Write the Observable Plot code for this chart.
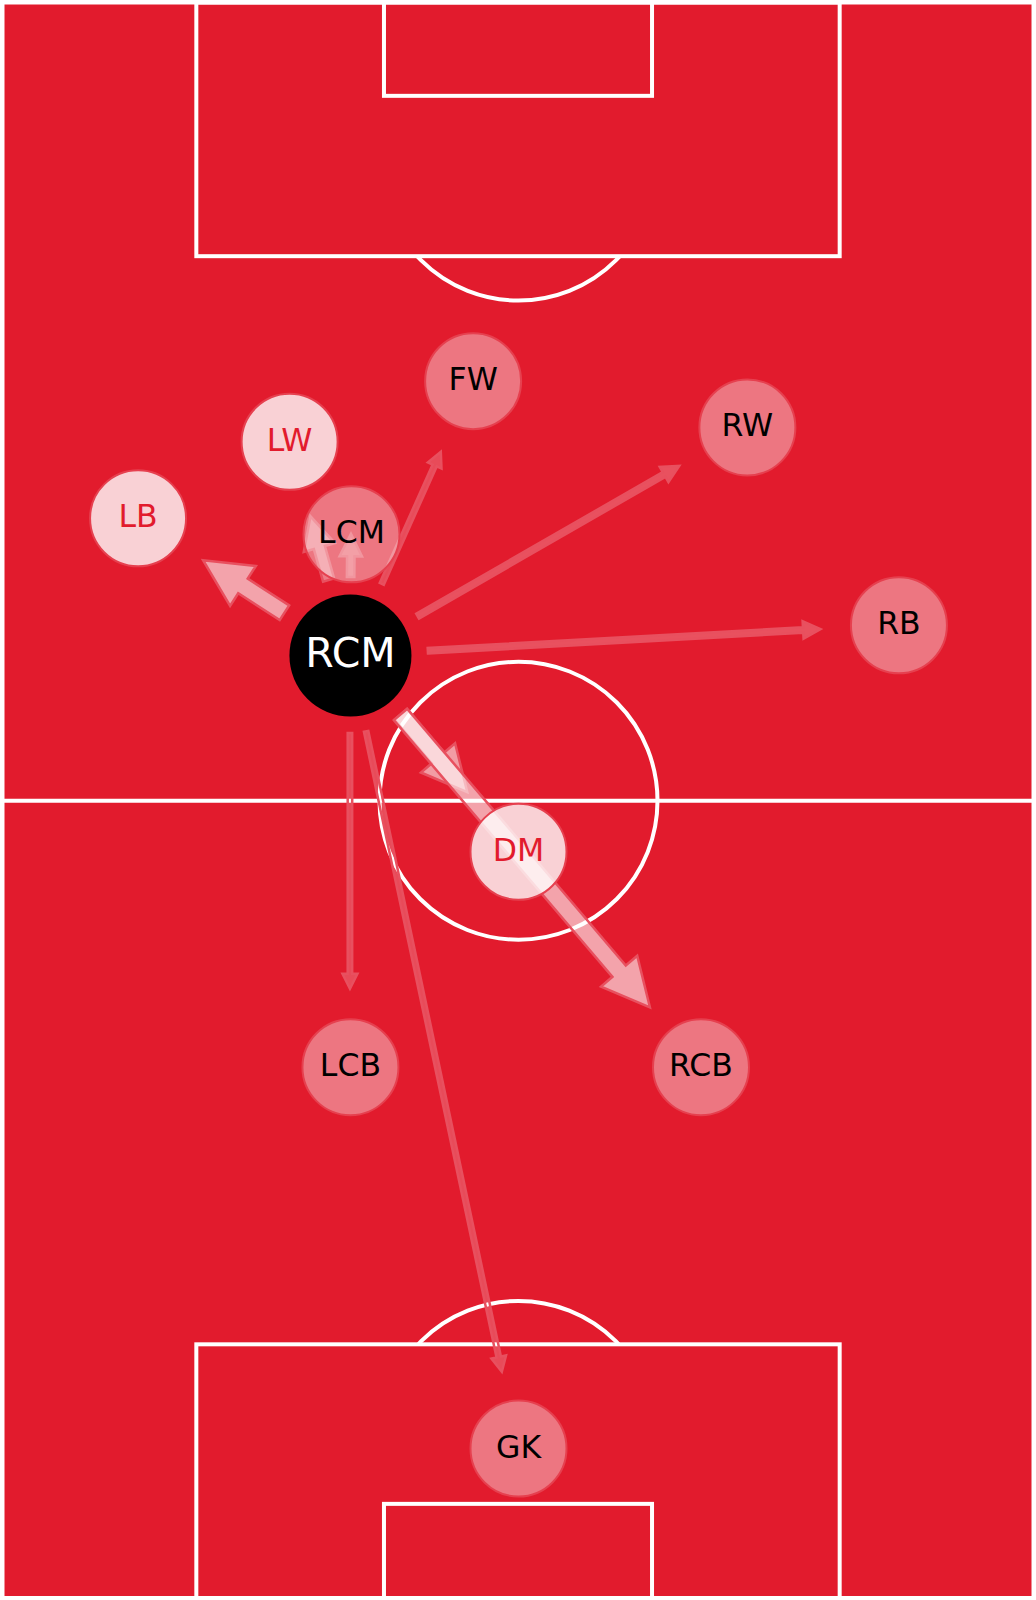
<!DOCTYPE html>
<html>
<head>
<meta charset="utf-8">
<script src="https://cdn.jsdelivr.net/npm/d3@7"></script>
<script src="https://cdn.jsdelivr.net/npm/@observablehq/plot@0.6"></script>
<style>
  html, body { margin: 0; padding: 0; background: #ffffff; }
  #chart svg { display: block; }
</style>
</head>
<body>
<div id="chart"></div>
<script>
// ---- Data (pitch coordinates: x = width 0–100 left→right, y = length 0–100 own goal→attack) ----
const players  = ["GK", "LCB", "RCB", "DM", "RCM", "LCM", "LB", "LW", "FW", "RW", "RB"];
const posX     = [50.0, 33.7, 67.7, 50.0, 33.7, 33.8, 13.1, 27.8, 45.6, 72.2, 86.9];
const posY     = [ 9.4, 33.3, 33.3, 46.8, 59.1, 66.7, 67.7, 72.5, 76.3, 73.4, 61.0];
// passes played by the focus player (RCM) to each team-mate
const passesFromRCM = [3.5, 3.5, 10, 9.5, 0, 5, 10, 7, 3.5, 4, 4];
// node tier: "focus" player, "high" involvement, "low" involvement
const tier = ["low", "low", "low", "high", "focus", "low", "high", "high", "low", "low", "low"];
const focusPlayer = "RCM";

// ---- Styling constants ----
const PITCH = "#e21b2d";
const LINE = "#ffffff";
const FONT = "DejaVu Sans, Liberation Sans, sans-serif";

const nodes = players.map((p, i) => ({player: p, x: posX[i], y: posY[i], tier: tier[i], passes: passesFromRCM[i]}));
const focusNode = nodes.find(d => d.player === focusPlayer);
const others = nodes.filter(d => d.player !== focusPlayer);
const links = others.filter(d => d.passes > 0)
  .map(d => ({source: focusNode, target: d, passes: d.passes}))
  .sort((a, b) => a.passes - b.passes);

// pitch markings (Wyscout-style 0–100 grid)
const pitch   = [{x1: 0, x2: 100, y1: 0, y2: 100}];
const boxes   = [{x1: 18.8, x2: 81.2, y1: 84.1, y2: 100}, {x1: 18.8, x2: 81.2, y1: 0, y2: 15.9}];
const sixes   = [{x1: 37, x2: 63, y1: 94.15, y2: 100}, {x1: 37, x2: 63, y1: 0, y2: 5.9}];
const spots   = [{x: 50, y: 90}, {x: 50, y: 10}];
const centre  = [{x: 50, y: 50}];
const halfway = [{x: 0, y: 50}, {x: 100, y: 50}];

// arrows drawn through Plot's x/y scales (matplotlib-like shrink & simple arrow head)
function passArrows(index, scales) {
  const sx = scales.x, sy = scales.y;
  const g = d3.create("svg:g");
  const SHRINK = 78;
  for (const l of links) {
    const x0 = sx(l.source.x), y0 = sy(l.source.y);
    const x1 = sx(l.target.x), y1 = sy(l.target.y);
    const D = Math.hypot(x1 - x0, y1 - y0);
    const ux = (x1 - x0) / D, uy = (y1 - y0) / D;
    const px = -uy, py = ux;
    const ax = x0 + ux * SHRINK, ay = y0 + uy * SHRINK;
    let bx = x1, by = y1;
    if (D - SHRINK > SHRINK) { bx = x1 - ux * SHRINK; by = y1 - uy * SHRINK; }
    const T = 2 * l.passes;
    const t = T - 2.5, W = 2.5 * T - 2.5, L = 2.5 * T - 2.5;
    const len = Math.hypot(bx - ax, by - ay);
    const cx = bx - ux * L, cy = by - uy * L;
    let pts;
    if (len > L) {
      pts = [
        [ax + px * t / 2, ay + py * t / 2],
        [cx + px * t / 2, cy + py * t / 2],
        [cx + px * W / 2, cy + py * W / 2],
        [bx, by],
        [cx - px * W / 2, cy - py * W / 2],
        [cx - px * t / 2, cy - py * t / 2],
        [ax - px * t / 2, ay - py * t / 2]
      ];
    } else {
      pts = [[cx + px * W / 2, cy + py * W / 2], [bx, by], [cx - px * W / 2, cy - py * W / 2]];
    }
    g.append("path")
      .attr("d", "M" + pts.map(p => p.join(",")).join("L") + "Z")
      .attr("fill", "#ffffff")
      .attr("fill-opacity", Math.min(0.6, 0.06 * l.passes))
      .attr("stroke", "#e8505f")
      .attr("stroke-width", 2.5)
      .attr("stroke-linejoin", "miter");
  }
  return g.node();
}

const chart = Plot.plot({
  width: 1036,
  height: 1600,
  marginLeft: 2.5,
  marginRight: 2.5,
  marginTop: 2.5,
  marginBottom: 2,
  x: {domain: [0, 100], axis: null},
  y: {domain: [0, 100], axis: null},
  style: {background: "#ffffff", fontFamily: FONT},
  marks: [
    Plot.rect(pitch, {x1: "x1", x2: "x2", y1: "y1", y2: "y2", fill: PITCH}),
    Plot.line(halfway, {x: "x", y: "y", stroke: LINE, strokeWidth: 4}),
    Plot.dot(centre, {x: "x", y: "y", r: 139, fill: "none", stroke: LINE, strokeWidth: 4}),
    Plot.dot(spots, {x: "x", y: "y", r: 138, fill: "none", stroke: LINE, strokeWidth: 4}),
    Plot.rect(boxes, {x1: "x1", x2: "x2", y1: "y1", y2: "y2", fill: PITCH, stroke: LINE, strokeWidth: 4}),
    Plot.rect(sixes, {x1: "x1", x2: "x2", y1: "y1", y2: "y2", fill: PITCH, stroke: LINE, strokeWidth: 4}),
    Plot.rect(pitch, {x1: "x1", x2: "x2", y1: "y1", y2: "y2", fill: "none", stroke: LINE, strokeWidth: 4}),
    passArrows,
    Plot.dot(others, {
      x: "x", y: "y", r: 48,
      fill: "#ffffff",
      fillOpacity: d => d.tier === "high" ? 0.8 : 0.4,
      stroke: "#e6404f", strokeWidth: 2
    }),
    Plot.dot([focusNode], {x: "x", y: "y", r: 61, fill: "#000000"}),
    Plot.text(others, {
      x: "x", y: "y", text: "player",
      fontSize: 31.5, fontFamily: FONT, dy: -1,
      fill: d => d.tier === "high" ? PITCH : "#000000"
    }),
    Plot.text([focusNode], {
      x: "x", y: "y", text: "player",
      fontSize: 41, fontFamily: FONT, dy: -2, fill: "#ffffff"
    })
  ]
});

document.getElementById("chart").append(chart);
</script>
</body>
</html>
